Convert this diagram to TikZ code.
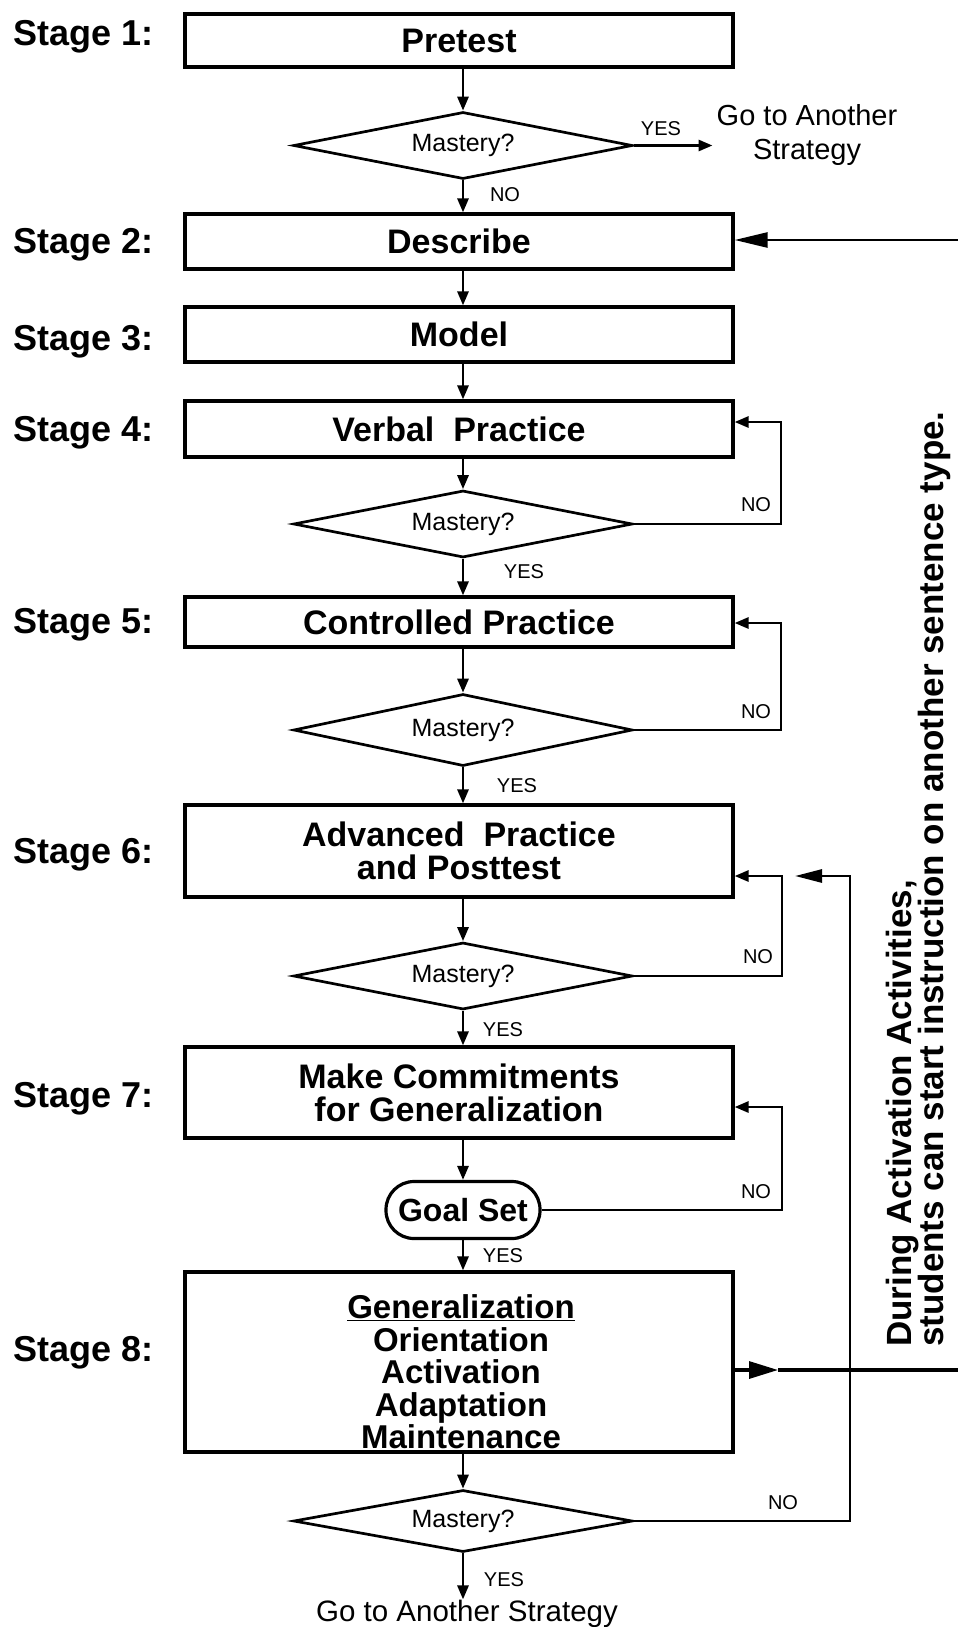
\documentclass[tikz,border=0pt]{standalone}
\usepackage{fontspec}
\setmainfont{Liberation Sans}
\usetikzlibrary{shapes.geometric,arrows.meta}
\begin{document}
\begin{tikzpicture}[x=1pt,y=-1pt,
  box/.style={draw, line width=3.2pt, minimum width=548pt, inner sep=0pt, align=center,
    font=\fontsize{34}{33}\selectfont\bfseries},
  dia/.style={diamond, draw, line width=2.7pt, aspect=5, inner sep=0pt,
    minimum width=339pt, minimum height=67pt, font=\fontsize{25}{26}\selectfont},
  yn/.style={inner sep=0pt, font=\fontsize{20}{21}\selectfont},
  stage/.style={anchor=base west, inner sep=0pt, font=\fontsize{36}{38}\selectfont\bfseries},
  ln/.style={line width=2.8pt},
  arr/.style={line width=2.8pt, -{Triangle[length=14pt,width=11pt]}}]
\lineskiplimit=-50pt\relax
\useasboundingbox (0,0) rectangle (958,1627);
\coordinate (col) at (463,0);

% stage labels
\node[stage] (s1) at (13,46) {Stage 1:};
\node[stage] (s2) at (13,253) {Stage 2:};
\node[stage] (s3) at (13,350) {Stage 3:};
\node[stage] (s4) at (13,441) {Stage 4:};
\node[stage] (s5) at (13,633) {Stage 5:};
\node[stage] (s6) at (13,863) {Stage 6:};
\node[stage] (s7) at (13,1107) {Stage 7:};
\node[stage] (s8) at (13,1361) {Stage 8:};

% boxes
\node[box, minimum height=53pt] (pretest) at (459,40.5) {Pretest};
\node[box, minimum height=55pt] (describe) at (459,241.5) {Describe};
\node[box, minimum height=55pt] (model) at (459,334.5) {Model};
\node[box, minimum height=56pt] (verbal) at (459,429) {Verbal\ \ Practice};
\node[box, minimum height=50pt] (controlled) at (459,622) {Controlled Practice};
\node[box, minimum height=92pt] (advanced) at (459,851) {Advanced\ \ Practice\\and Posttest};
\node[box, minimum height=91pt] (commit) at (459,1092.5) {Make Commitments\\for Generalization};
\node[draw, line width=3.2pt, rounded corners=28pt, minimum width=154pt, minimum height=57pt,
  inner sep=0pt, font=\fontsize{32}{33}\selectfont\bfseries] (goal) at (463,1210) {Goal Set};
\node[box, minimum height=180pt] (gen) at (459,1362) {};
\node[inner sep=0pt, align=center, font=\fontsize{33}{32.5}\selectfont\bfseries]
  (gentext) at (461,1372) {\underline{Generalization}\\Orientation\\Activation\\Adaptation\\Maintenance};

% diamonds
\node[dia] (d1) at (463,145.5) {Mastery?};
\node[dia] (d2) at (463,524) {Mastery?};
\node[dia, minimum height=72pt] (d3) at (463,730) {Mastery?};
\node[dia] (d4) at (463,976) {Mastery?};
\node[dia, minimum height=62pt] (d5) at (463,1521) {Mastery?};

% other texts
\node[inner sep=0pt, align=center, font=\fontsize{29}{34}\selectfont] (goto1) at (807,135) {Go to Another\\Strategy};
\node[inner sep=0pt, anchor=base, font=\fontsize{29.5}{30}\selectfont] (goto2) at (467,1621) {Go to Another Strategy};
\node[rotate=90, anchor=north west, inner sep=0pt, align=left,
  font=\fontsize{35}{32}\selectfont\bfseries] (note) at (886,1347)
  {During Activation Activities,\\students can start instruction on another sentence type.};

% yes/no labels
\node[yn] (y1) at (661,129) {YES};
\node[yn] (n1) at (505,195) {NO};
\node[yn] (n4) at (756,505) {NO};
\node[yn] (y2) at (524,572) {YES};
\node[yn] (n5) at (756,712) {NO};
\node[yn] (y3) at (517,786) {YES};
\node[yn] (n6) at (758,957) {NO};
\node[yn] (y4) at (503,1030) {YES};
\node[yn] (n7) at (756,1192) {NO};
\node[yn] (y7) at (503,1256) {YES};
\node[yn] (n8) at (783,1503) {NO};
\node[yn] (y8) at (504,1580) {YES};

% main vertical flow
\draw[arr] (pretest.south -| col) -- (d1.north);
\draw[arr] (d1.south) -- (describe.north -| col);
\draw[arr] (describe.south -| col) -- (model.north -| col);
\draw[arr] (model.south -| col) -- (verbal.north -| col);
\draw[arr] (verbal.south -| col) -- (d2.north);
\draw[arr] (d2.south) -- (controlled.north -| col);
\draw[arr] (controlled.south -| col) -- (d3.north);
\draw[arr] (d3.south) -- (advanced.north -| col);
\draw[arr] (advanced.south -| col) -- (d4.north);
\draw[arr] (d4.south) -- (commit.north -| col);
\draw[arr] (commit.south -| col) -- (goal.north);
\draw[arr] (goal.south) -- (gen.north -| col);
\draw[arr] (gen.south -| col) -- (d5.north);
\draw[arr] (d5.south) -- (d5.south |- goto2.north);
\draw[arr, shorten >=4pt] (d1.east) -- (goto1.west |- d1.east);

% loops
\coordinate (c4) at (781,422);
\draw[arr] (d2.east) -| (c4) -- (c4 -| verbal.east);
\coordinate (c5) at (781,623);
\draw[arr] (d3.east) -| (c5) -- (c5 -| controlled.east);
\coordinate (c6) at (782,876);
\draw[arr] (d4.east) -| (c6) -- (c6 -| advanced.east);
\coordinate (c7) at (782,1107);
\draw[arr] (goal.east) -| (c7) -- (c7 -| commit.east);
\coordinate (c8) at (850,876);
\coordinate (c8tip) at (795,876);
\draw[line width=2.8pt, -{Triangle[length=27pt,width=13pt]}] (d5.east) -| (c8) -- (c8tip);

% long arrows to the right edge
\coordinate (e2) at (960,240);
\draw[line width=2.6pt, -{Triangle[length=33pt,width=15pt]}] (e2) -- (describe.east |- e2);
\coordinate (g8tip) at (778,1370);
\coordinate (e8) at (960,1370);
\draw[line width=3.2pt, -{Triangle[length=29pt,width=17pt]}] (gen.east |- g8tip) -- (g8tip);
\draw[line width=3.2pt] (g8tip) -- (e8);
\end{tikzpicture}
\end{document}
